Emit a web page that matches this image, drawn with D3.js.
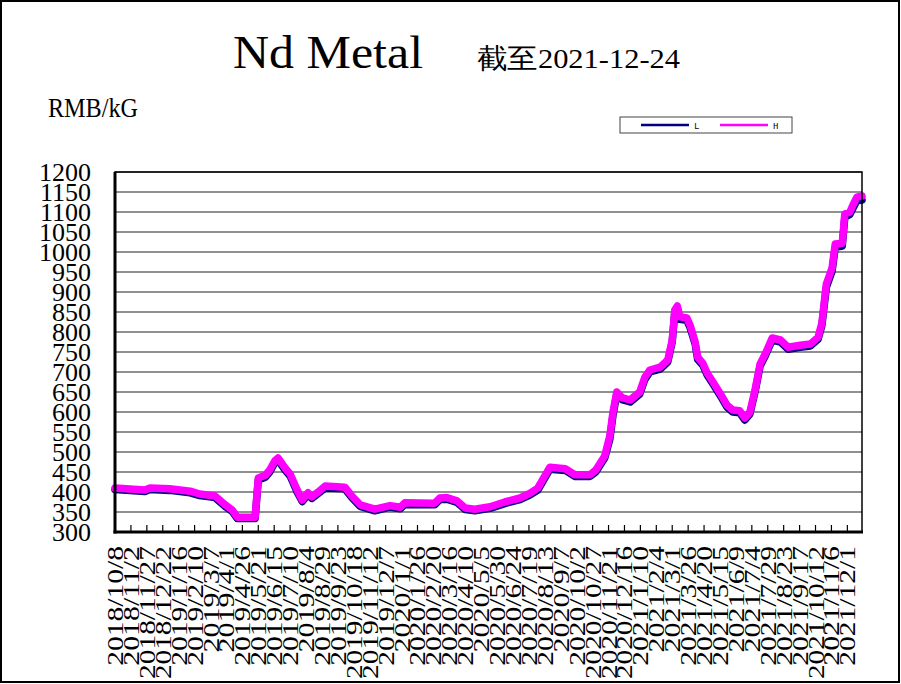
<!DOCTYPE html>
<html><head><meta charset="utf-8">
<script src="https://cdn.jsdelivr.net/npm/d3@7"></script>
<style>
html,body{margin:0;padding:0;background:#fff;}
svg{display:block;}
</style></head>
<body>
<svg id="chart" width="901" height="684"></svg>
<script>
const dates = [
"2018-10-08","2018-11-24","2018-12-02","2019-01-02","2019-02-03","2019-02-18","2019-03-14","2019-03-30","2019-04-10","2019-04-18",
"2019-05-16","2019-05-21","2019-06-01","2019-06-08","2019-06-16","2019-06-21","2019-07-02","2019-07-10","2019-07-21","2019-07-29",
"2019-08-07","2019-08-13","2019-08-23","2019-09-03","2019-10-04","2019-10-15","2019-10-28","2019-11-20","2019-12-14","2019-12-30",
"2020-01-06","2020-02-22","2020-03-01","2020-03-12","2020-03-28","2020-04-10","2020-04-25","2020-05-19","2020-06-11","2020-07-05",
"2020-07-21","2020-08-02","2020-08-21","2020-09-14","2020-09-29","2020-10-23","2020-11-01","2020-11-15","2020-11-23","2020-11-28",
"2020-12-04","2020-12-12","2020-12-25","2021-01-09","2021-01-17","2021-01-25","2021-02-10","2021-02-22","2021-03-01","2021-03-05",
"2021-03-09","2021-03-13","2021-03-24","2021-03-29","2021-04-06","2021-04-10","2021-04-18","2021-04-25","2021-05-04","2021-05-15",
"2021-05-26","2021-06-04","2021-06-15","2021-06-23","2021-07-01","2021-07-09","2021-07-17","2021-07-25","2021-08-05","2021-08-18",
"2021-08-30","2021-09-18","2021-10-04","2021-10-16","2021-10-22","2021-10-29","2021-11-07","2021-11-12","2021-11-23","2021-11-27",
"2021-12-05","2021-12-10","2021-12-16","2021-12-24"];

const seriesH = [
410,405,410,408,402,395,390,368,355,337,
337,435,442,455,478,485,460,445,405,380,
398,388,400,415,412,390,368,357,366,362,
373,372,385,386,378,360,357,363,375,385,
397,410,462,458,443,443,455,490,540,600,
650,636,630,650,687,705,712,730,780,855,
865,838,835,817,775,737,722,697,675,647,
617,605,603,585,600,655,720,745,785,780,
762,767,770,787,822,920,960,1020,1022,1095,
1100,1118,1137,1140];

const seriesL = [
406,401,406,404,398,391,386,364,351,334,
334,430,437,450,473,480,455,440,400,376,
394,384,396,410,408,386,364,353,362,358,
369,368,381,382,374,356,353,359,371,381,
393,405,457,454,439,439,450,485,532,592,
645,631,625,645,681,700,707,725,775,848,
858,832,829,811,770,731,717,692,670,642,
612,600,598,580,595,650,715,740,780,775,
757,762,765,782,816,912,952,1012,1015,1087,
1094,1110,1128,1130];

const xTickLabels = [
"2018/10/8","2018/11/2","2018/11/27","2018/12/22","2019/1/16","2019/2/10","2019/3/7","2019/4/1","2019/4/26","2019/5/21",
"2019/6/15","2019/7/10","2019/8/4","2019/8/29","2019/9/23","2019/10/18","2019/11/12","2019/12/7","2020/1/1","2020/1/26",
"2020/2/20","2020/3/16","2020/4/10","2020/5/5","2020/5/30","2020/6/24","2020/7/19","2020/8/13","2020/9/7","2020/10/2",
"2020/10/27","2020/11/21","2020/12/16","2021/1/10","2021/2/4","2021/3/1","2021/3/26","2021/4/20","2021/5/15","2021/6/9",
"2021/7/4","2021/7/29","2021/8/23","2021/9/17","2021/10/12","2021/11/6","2021/12/1"];

const yTicks = [300,350,400,450,500,550,600,650,700,750,800,850,900,950,1000,1050,1100,1150,1200];

const seriesNames = ["L","H"];
const seriesColors = ["#000080","#ff00ff"];

const svg = d3.select("#chart");
const parseDash = d3.timeParse("%Y-%m-%d");
const parseSlash = d3.timeParse("%Y/%m/%d");

const pLeft = 115, pRight = 862, pTop = 172, pBottom = 532;
const x = d3.scaleTime()
  .domain([parseDash("2018-10-08"), parseDash("2021-12-24")])
  .range([pLeft, pRight]);
const y = d3.scaleLinear().domain([300, 1200]).range([pBottom, pTop]);

const serif = "'Liberation Serif','Times New Roman',serif";

// outer border
svg.append("rect").attr("x",1).attr("y",1).attr("width",898).attr("height",681)
  .attr("fill","#fff").attr("stroke","#000").attr("stroke-width",2);

// title
svg.append("text").attr("x",233).attr("y",68)
  .attr("font-family",serif).attr("font-size",46)
  .attr("textLength",190).attr("lengthAdjust","spacingAndGlyphs")
  .text("Nd Metal");
svg.append("text").attr("x",477).attr("y",68)
  .attr("font-family",serif).attr("font-size",28)
  .attr("textLength",203).attr("lengthAdjust","spacingAndGlyphs")
  .text("截至2021-12-24");
svg.append("text").attr("x",48).attr("y",117)
  .attr("font-family",serif).attr("font-size",28)
  .attr("textLength",90).attr("lengthAdjust","spacingAndGlyphs")
  .text("RMB/kG");

// legend
const lg = svg.append("g");
lg.append("rect").attr("x",620).attr("y",117).attr("width",172).attr("height",16)
  .attr("fill","#fff").attr("stroke","#444").attr("stroke-width",1);
const legendX = [641, 720];
seriesNames.forEach((n,i)=>{
  lg.append("line").attr("x1",legendX[i]).attr("x2",legendX[i]+48)
    .attr("y1",125).attr("y2",125).attr("stroke",seriesColors[i]).attr("stroke-width",2.5);
  lg.append("text").attr("x",legendX[i]+53).attr("y",128.5)
    .attr("font-family","'Liberation Mono',monospace").attr("font-size",9).text(n);
});

// gridlines
svg.append("g").selectAll("line").data(yTicks).join("line")
  .attr("x1",pLeft).attr("x2",pRight)
  .attr("y1",d=>y(d)).attr("y2",d=>y(d))
  .attr("stroke","#222").attr("stroke-width",1.2);

// y labels
svg.append("g").selectAll("text").data(yTicks).join("text")
  .attr("x",91).attr("y",d=>y(d))
  .attr("text-anchor","end").attr("dominant-baseline","central")
  .attr("font-family",serif).attr("font-size",26)
  .text(d=>d);

// lines
const seriesVals = [seriesL, seriesH];
seriesVals.forEach((vals,i)=>{
  const pts = dates.map((d,k)=>[parseDash(d), vals[k]]);
  const line = d3.line().x(p=>x(p[0])).y(p=>y(p[1]));
  svg.append("path").attr("d",line(pts)).attr("fill","none")
    .attr("stroke",seriesColors[i]).attr("stroke-width",7.5)
    .attr("stroke-linejoin","round").attr("stroke-linecap","round");
});

// plot frame
svg.append("rect").attr("x",pLeft).attr("y",pTop).attr("width",pRight-pLeft).attr("height",pBottom-pTop)
  .attr("fill","none").attr("stroke","#000").attr("stroke-width",1.5);
svg.append("line").attr("x1",pLeft).attr("x2",pLeft).attr("y1",pTop).attr("y2",pBottom+1.5)
  .attr("stroke","#000").attr("stroke-width",3);
svg.append("line").attr("x1",pLeft-1.5).attr("x2",pRight+1).attr("y1",pBottom).attr("y2",pBottom)
  .attr("stroke","#000").attr("stroke-width",3);

// x ticks + labels
const tickDates = xTickLabels.map(s=>parseSlash(s));
svg.append("g").selectAll("line").data(tickDates).join("line")
  .attr("x1",d=>x(d)).attr("x2",d=>x(d))
  .attr("y1",pBottom).attr("y2",pBottom-7)
  .attr("stroke","#000").attr("stroke-width",1.2);
svg.append("g").selectAll("text").data(xTickLabels).join("text")
  .attr("transform",(s,i)=>`translate(${x(tickDates[i])},546) rotate(-90)`)
  .attr("text-anchor","end").attr("dominant-baseline","central")
  .attr("font-family",serif).attr("font-size",24)
  .attr("textLength",s=>s.length*13.3).attr("lengthAdjust","spacingAndGlyphs")
  .text(s=>s);
</script>
</body></html>
